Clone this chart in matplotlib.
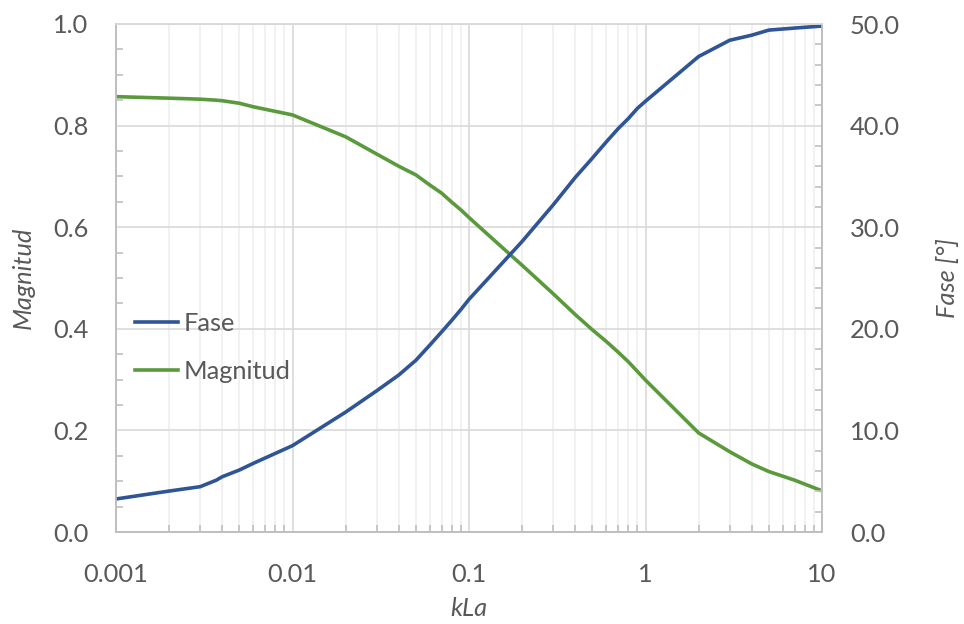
import numpy as np
import matplotlib
matplotlib.use("Agg")
from matplotlib import pyplot as plt
from matplotlib.ticker import LogLocator, MultipleLocator, FormatStrFormatter, NullFormatter

# kLa values
kla = [0.001, 0.002, 0.003, 0.0037, 0.004, 0.005, 0.006, 0.01, 0.02, 0.03, 0.04, 0.05,
       0.06, 0.07, 0.08, 0.09, 0.1, 0.175, 0.2, 0.3, 0.4, 0.5, 0.6, 0.7, 0.8, 0.9, 1,
       2, 3, 4, 5, 7, 10]

magnitud = [0.857, 0.854, 0.852, 0.850, 0.849, 0.844, 0.837, 0.821, 0.778, 0.744, 0.720, 0.703,
            0.683, 0.667, 0.649, 0.634, 0.619, 0.543, 0.525, 0.469, 0.428, 0.398, 0.375, 0.354,
            0.335, 0.316, 0.299, 0.195, 0.158, 0.134, 0.119, 0.102, 0.081]

fase = [3.25, 4.03, 4.46, 5.1, 5.44, 6.1, 6.76, 8.5, 11.8, 13.9, 15.45, 16.9,
        18.4, 19.7, 20.85, 21.9, 22.9, 27.5, 28.6, 32.2, 34.9, 36.8, 38.4, 39.7, 40.7, 41.7,
        42.4, 46.8, 48.4, 48.9, 49.4, 49.6, 49.8]

BLUE = "#2F5597"
GREEN = "#5B9A3C"
TXT = "#595959"

plt.rcParams['font.family'] = ['Lato', 'DejaVu Sans']
plt.rcParams['font.size'] = 18.3

fig = plt.figure(figsize=(9.64, 6.24), dpi=100)
ax = fig.add_axes([116/964, 1-532/624, 706/964, 508/624])
ax2 = ax.twinx()

l2, = ax.plot(kla, magnitud, color=GREEN, lw=2.6, label="Magnitud")
l1, = ax2.plot(kla, fase, color=BLUE, lw=2.6, label="Fase")

ax.set_xscale('log')
ax.set_xlim(0.001, 10)
ax.set_ylim(0, 1.0)
ax2.set_ylim(0, 50)

ax.xaxis.set_minor_locator(LogLocator(base=10, subs=np.arange(2, 10), numticks=20))
ax.xaxis.set_minor_formatter(NullFormatter())
ax.set_xticks([0.001, 0.01, 0.1, 1, 10])
ax.set_xticklabels(["0.001", "0.01", "0.1", "1", "10"])

ax.yaxis.set_major_locator(MultipleLocator(0.2))
ax.yaxis.set_minor_locator(MultipleLocator(0.05))
ax.yaxis.set_major_formatter(FormatStrFormatter('%.1f'))
ax2.yaxis.set_major_locator(MultipleLocator(10))
ax2.yaxis.set_minor_locator(MultipleLocator(2))
ax2.yaxis.set_major_formatter(FormatStrFormatter('%.1f'))

ax.grid(True, which='major', color='#d9d9d9', lw=1.2)
ax.grid(True, which='minor', axis='x', color='#efefef', lw=1.2)
ax.set_axisbelow(True)

for a in (ax, ax2):
    for s in a.spines.values():
        s.set_color('#bfbfbf')
        s.set_linewidth(1.2)
    a.spines['top'].set_color('#d9d9d9')
    a.tick_params(which='both', direction='in', color='#bfbfbf', width=1.2, labelcolor=TXT)
    a.tick_params(which='major', length=0)
    a.tick_params(which='minor', length=5)

ax.tick_params(axis='y', which='both', right=False, pad=20)
ax.tick_params(axis='x', which='both', top=False, pad=22)
ax2.tick_params(axis='y', which='both', pad=20)

ax.set_xlabel("kLa", style='italic', color=TXT, labelpad=8)
ax.set_ylabel("Magnitud", style='italic', color=TXT, labelpad=13)
ax2.set_ylabel("Fase [°]", style='italic', color=TXT, labelpad=26, rotation=90)

leg = ax.legend([l1, l2], ["Fase", "Magnitud"], loc='center left',
                bbox_to_anchor=(0.027, 0.363), frameon=False, borderpad=0,
                borderaxespad=0, handlelength=1.7, handletextpad=0.2, labelspacing=1.0)
for t in leg.get_texts():
    t.set_color(TXT)

fig.savefig("out.png", dpi=100)
